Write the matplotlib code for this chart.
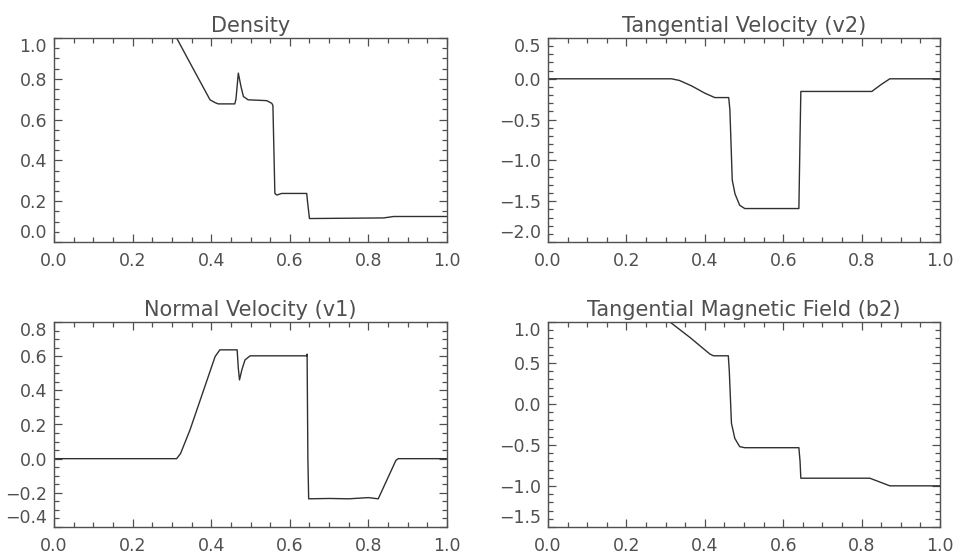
import numpy as np
import matplotlib
matplotlib.use('Agg')
from matplotlib import pyplot as plt
from matplotlib.ticker import MultipleLocator

# values
density_x = [0.0, 0.312, 0.35, 0.397, 0.41, 0.418, 0.460, 0.463, 0.469, 0.476,
             0.482, 0.494, 0.541, 0.554, 0.557, 0.562, 0.567, 0.579, 0.643, 0.645,
             0.650, 0.839, 0.864, 1.0]
density_y = [1.0, 1.0, 0.864, 0.697, 0.683, 0.677, 0.677, 0.70, 0.828, 0.76,
             0.713, 0.697, 0.693, 0.68, 0.67, 0.238, 0.23, 0.238, 0.238, 0.20,
             0.115, 0.118, 0.125, 0.125]

v2_x = [0.0, 0.315, 0.335, 0.366, 0.40, 0.4255, 0.461, 0.464, 0.47, 0.477,
        0.489, 0.502, 0.640, 0.643, 0.645, 0.826, 0.850, 0.872, 1.0]
v2_y = [0.0, 0.0, -0.02, -0.086, -0.176, -0.23, -0.23, -0.38, -1.24, -1.41,
        -1.55, -1.59, -1.59, -0.70, -0.155, -0.155, -0.07, 0.0, 0.0]

v1_x = [0.0, 0.312, 0.322, 0.346, 0.41, 0.422, 0.466, 0.469, 0.472, 0.478,
        0.486, 0.499, 0.643, 0.644, 0.646, 0.648, 0.70, 0.75, 0.80, 0.825,
        0.86, 0.870, 0.876, 1.0]
v1_y = [0.0, 0.0, 0.03, 0.168, 0.598, 0.637, 0.637, 0.53, 0.461, 0.52,
        0.578, 0.602, 0.602, 0.612, 0.0, -0.235, -0.233, -0.235, -0.228, -0.235,
        -0.06, -0.01, 0.0, 0.0]

b2_x = [0.0, 0.311, 0.362, 0.413, 0.422, 0.460, 0.4625, 0.468, 0.4766, 0.489,
        0.502, 0.640, 0.643, 0.645, 0.821, 0.872, 1.0]
b2_y = [1.0, 1.0, 0.812, 0.609, 0.588, 0.588, 0.40, -0.236, -0.42, -0.52,
        -0.533, -0.533, -0.70, -0.905, -0.905, -0.998, -0.998]

titles = ['Density', 'Tangential Velocity (v2)',
          'Normal Velocity (v1)', 'Tangential Magnetic Field (b2)']
series = [(density_x, density_y), (v2_x, v2_y), (v1_x, v1_y), (b2_x, b2_y)]
y_limits = [(0.0, 1.0), (-2.0, 0.5), (-0.4, 0.8), (-1.5, 1.0)]
y_major = [0.2, 0.5, 0.2, 0.5]
y_minor = [0.05, 0.1, 0.05, 0.1]

text_color = '#505050'
plt.rcParams['font.family'] = ['DejaVu Sans']
plt.rcParams['font.size'] = 12.5

fig = plt.figure(figsize=(9.58, 5.6), dpi=100)
W, H = 958, 560
boxes = [(54, 38, 447, 242), (548, 38, 940, 242),
         (54, 322, 447, 527), (548, 322, 940, 527)]

for (l, t, r, b), title, (xs, ys), ylim, ymaj, ymin in zip(
        boxes, titles, series, y_limits, y_major, y_minor):
    ax = fig.add_axes([l / W, 1 - b / H, (r - l) / W, (b - t) / H])
    ax.plot(xs, ys, color='#303030', lw=1.0)
    ax.set_xticks(np.round(np.arange(0, 1.0001, 0.2), 2))
    ax.xaxis.set_minor_locator(MultipleLocator(0.05))
    yt = np.round(np.arange(ylim[0], ylim[1] + 1e-6, ymaj), 2)
    ax.set_yticks(yt)
    ax.set_yticklabels([f'{v:.1f}'.replace('-', '\u2212') for v in yt])
    ax.yaxis.set_minor_locator(MultipleLocator(ymin))
    ax.set_xlim(0, 1)
    ax.set_ylim(*ylim)
    ax.tick_params(which='both', direction='in', top=True, right=True,
                   color='#505050', labelcolor=text_color, width=0.9)
    ax.tick_params(which='major', length=6)
    ax.tick_params(which='minor', length=3.5)
    ax.tick_params(axis='x', pad=7)
    ax.tick_params(axis='y', pad=5)
    for s in ax.spines.values():
        s.set_color('#505050')
        s.set_linewidth(1.0)
    ax.set_title(title, color=text_color, fontsize=15, pad=4)
    ticks = ax.yaxis.get_major_ticks()
    ticks[0].label1.set_verticalalignment('bottom')
    ticks[-1].label1.set_verticalalignment('top')

fig.savefig('out.png', dpi=100)
